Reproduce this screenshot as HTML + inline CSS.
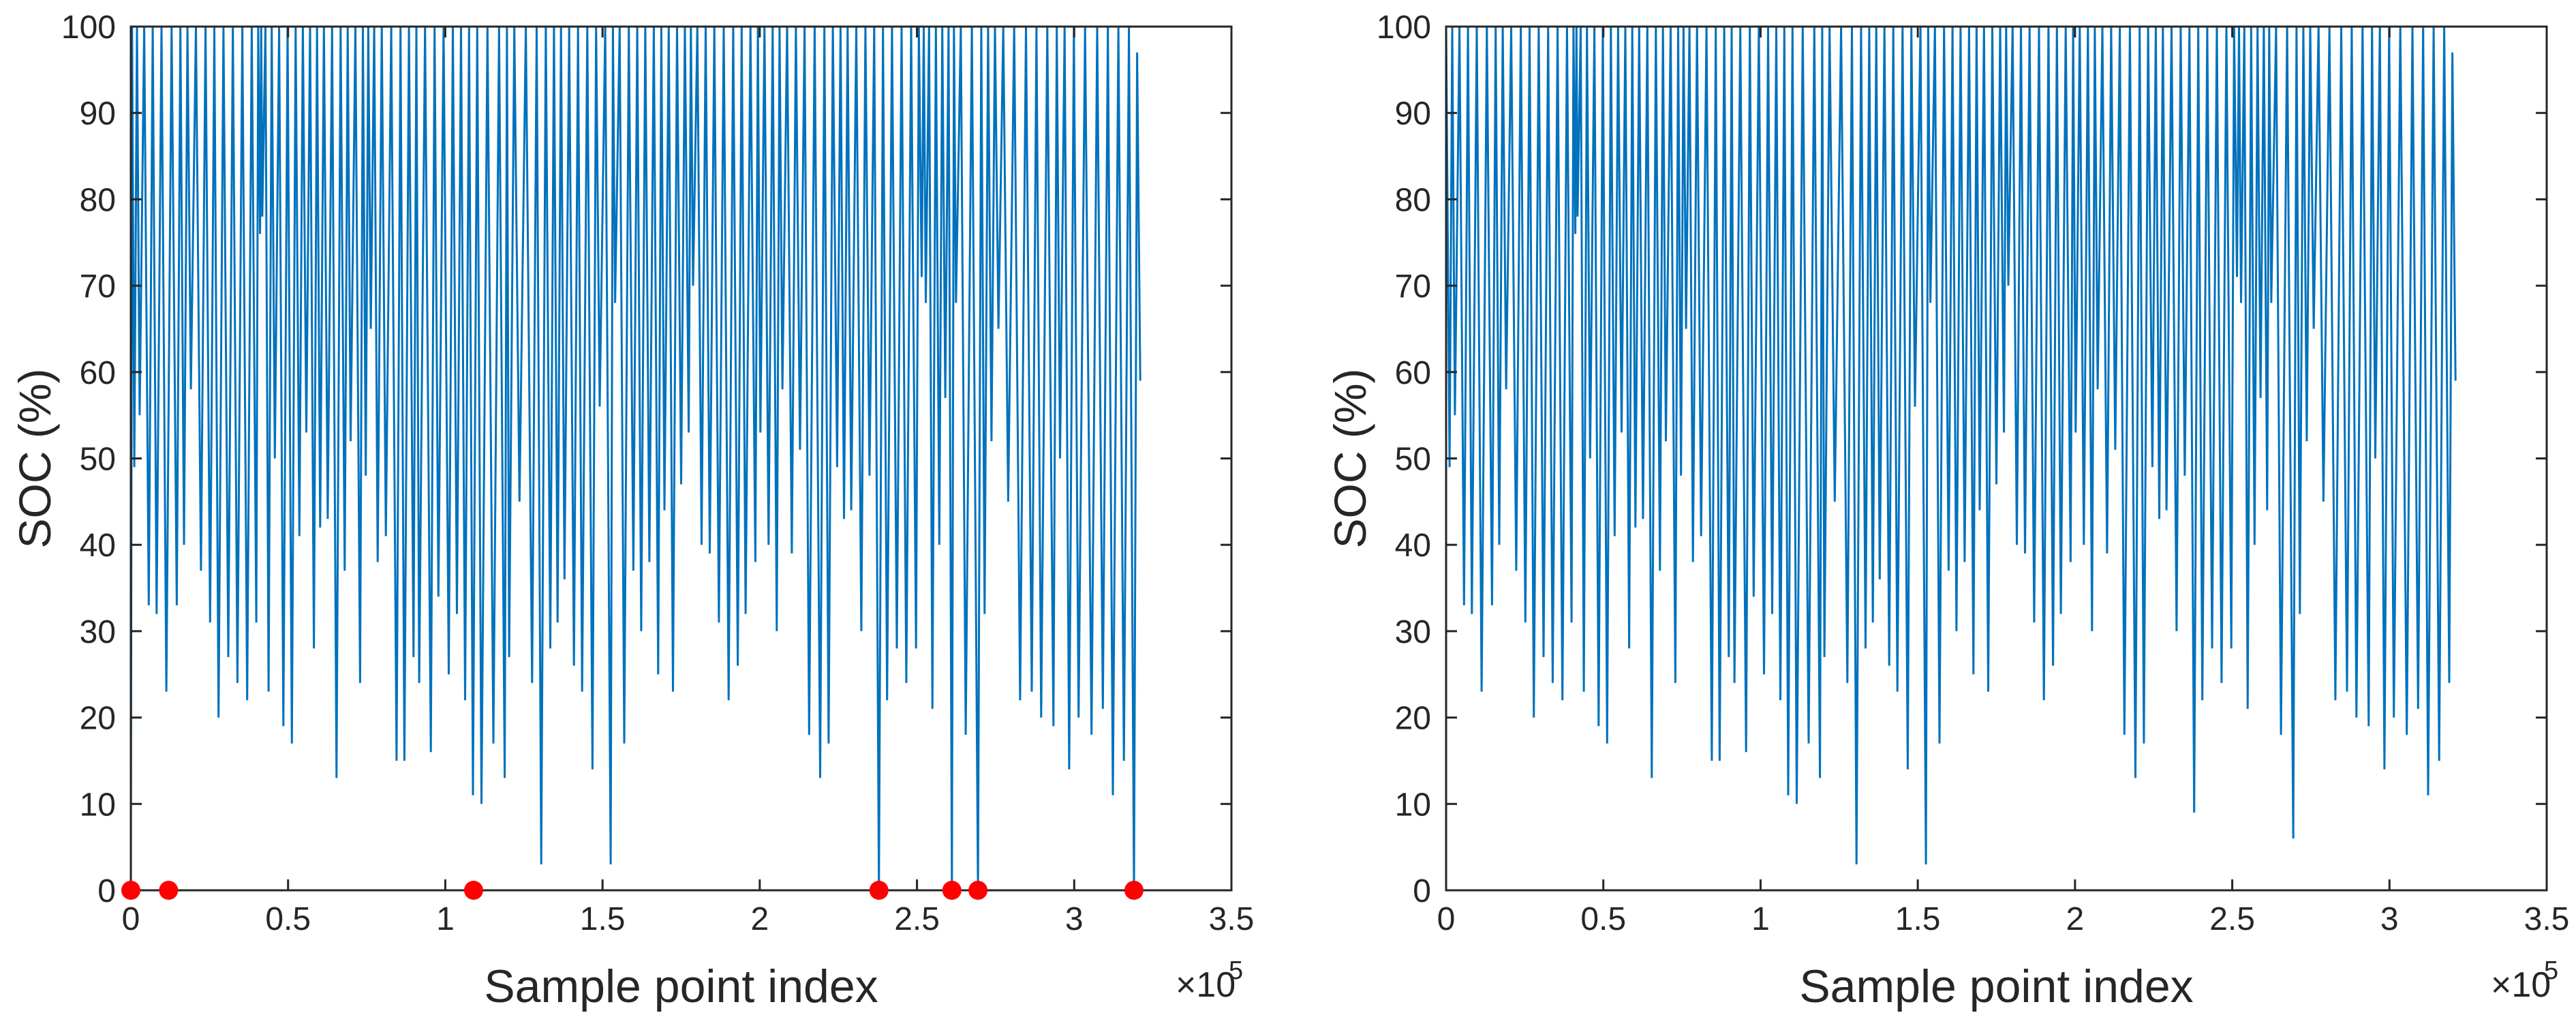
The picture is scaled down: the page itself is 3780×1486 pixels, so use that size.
<!DOCTYPE html>
<html><head><meta charset="utf-8"><style>
html,body{margin:0;padding:0;background:#fff;}
svg{display:block;font-family:"Liberation Sans",Arial,sans-serif;}
</style></head><body>
<svg id="fig" width="3780" height="1486" viewBox="0 0 3780 1486"></svg>
<script>
// ---- data (sample index in units of 1e5, SOC minima in %) ----
const cycleIdx = [0.011,0.028,0.057,0.082,0.113,0.146,0.169,0.191,0.223,0.252,0.279,0.310,0.339,0.370,0.399,0.411,0.418,0.438,0.458,0.485,0.512,0.536,0.558,0.582,0.602,0.626,0.654,0.680,0.699,0.729,0.747,0.763,0.785,0.811,0.845,0.870,0.899,
0.917,0.954,0.978,1.011,1.037,1.063,1.088,1.115,1.153,1.189,1.203,1.236,1.276,1.305,1.334,1.357,1.379,1.409,1.435,1.468,1.491,1.526,1.540,1.569,1.598,1.623,1.649,1.677,1.697,1.724,1.750,1.774,1.788,
1.815,1.841,1.870,1.901,1.930,1.955,1.986,2.002,2.028,2.054,2.072,2.102,2.128,2.157,2.192,2.219,2.246,2.268,2.291,2.323,2.349,2.379,2.405,2.436,2.466,2.497,2.515,2.528,2.549,2.571,2.590,2.611,2.624,2.655,
2.694,2.715,2.737,2.759,2.790,2.828,2.865,2.895,2.934,2.955,2.984,3.014,3.055,3.091,3.123,3.158,3.190];
const cycleMin = [49,55,33,32,23,33,40,58,37,31,20,27,24,22,31,76,78,23,50,19,17,41,53,28,42,43,13,37,52,24,48,65,38,41,15,15,27,
24,16,34,25,32,22,11,10,17,13,27,45,24,3,28,31,36,26,23,14,56,3,68,17,37,30,38,25,44,23,47,53,70,
40,39,31,22,26,32,38,53,40,30,58,39,51,18,13,17,49,43,44,30,48,9,22,28,24,28,71,68,21,40,57,44,68,18,
6,32,52,65,45,22,23,20,19,50,14,20,18,21,11,15,24];
const endIdx = 3.210;
const endVal = 59;
const lastPeak = 97;
const zeroDropIdx = [2.379, 2.611, 2.694, 3.190];      // minima forced to 0 in left plot
const redDotIdx = [0, 0.12, 1.09, 2.379, 2.611, 2.694, 3.190];
const xTicks = [0,0.5,1,1.5,2,2.5,3,3.5];
const xTickLabels = ["0","0.5","1","1.5","2","2.5","3","3.5"];
const yTicks = [0,10,20,30,40,50,60,70,80,90,100];

const NS = "http://www.w3.org/2000/svg";
const svg = document.getElementById("fig");
function mk(tag, attrs, parent){const e=document.createElementNS(NS,tag);for(const k in attrs)e.setAttribute(k,attrs[k]);(parent||svg).appendChild(e);return e;}

function drawPanel(x0, left){
  const x1 = x0 + 1615, yTop = 39, yBot = 1306;
  const sx = v => x0 + (v/3.5)*(x1-x0);
  const sy = v => yBot - (v/100)*(yBot-yTop);
  const g = mk("g",{});
  
  

  const pts = [];
  pts.push([0, left ? 0 : 100]);
  if (left) pts.push([0.004, 100]);
  for (let i=0;i<cycleIdx.length;i++){
    let m = cycleMin[i];
    if (left && zeroDropIdx.some(z=>Math.abs(z-cycleIdx[i])<0.003)) m = 0;
    pts.push([cycleIdx[i], m]);
    const next = i+1<cycleIdx.length ? cycleIdx[i+1] : endIdx;
    const peak = i===cycleIdx.length-1 ? lastPeak : 100;
    pts.push([(cycleIdx[i]+next)/2, peak]);
  }
  pts.push([endIdx, endVal]);
  const d = pts.map((p,i)=>(i?"L":"M")+sx(p[0]).toFixed(1)+" "+sy(p[1]).toFixed(1)).join(" ");
  const line = mk("path",{d:d,fill:"none",stroke:"#0072BD","stroke-width":"3","stroke-linejoin":"miter"},g);
  
  

  const box = mk("rect",{x:x0,y:yTop,width:x1-x0,height:yBot-yTop,fill:"none",stroke:"#262626","stroke-width":"3"},g);
  
  

  xTicks.forEach((t,i)=>{
    const X = sx(t);
    mk("line",{x1:X,y1:yBot,x2:X,y2:yBot-16,stroke:"#262626","stroke-width":"3"},g);
    mk("line",{x1:X,y1:yTop,x2:X,y2:yTop+16,stroke:"#262626","stroke-width":"3"},g);
    const tx = mk("text",{x:X,y:yBot+58,"font-size":"48","text-anchor":"middle",fill:"#262626"},g);
    tx.textContent = xTickLabels[i];
    
    
  });
  yTicks.forEach(t=>{
    const Y = sy(t);
    mk("line",{x1:x0,y1:Y,x2:x0+16,y2:Y,stroke:"#262626","stroke-width":"3"},g);
    mk("line",{x1:x1,y1:Y,x2:x1-16,y2:Y,stroke:"#262626","stroke-width":"3"},g);
    const ty = mk("text",{x:x0-22,y:Y+17,"font-size":"48","text-anchor":"end",fill:"#262626"},g);
    ty.textContent = String(t);
    
    
  });
  const xl = mk("text",{x:(x0+x1)/2,y:1470,"font-size":"68","text-anchor":"middle",fill:"#262626"},g);
  xl.textContent = "Sample point index";
  
  
  const yl = mk("text",{x:0,y:0,"font-size":"66","text-anchor":"middle",fill:"#262626",transform:`translate(${x0-118},${(yTop+yBot)/2}) rotate(-90)`},g);
  yl.textContent = "SOC (%)";
  
  
  const ex = mk("text",{x:x1-82,y:1462,"font-size":"52",fill:"#262626"},g);
  ex.textContent = "\u00d710";
  
  
  const ex5 = mk("text",{x:x1-4,y:1436,"font-size":"38",fill:"#262626"},g);
  ex5.textContent = "5";
  
  

  if (left){
    redDotIdx.forEach(v=>{
      const c = mk("circle",{cx:sx(v),cy:yBot,r:14,fill:"#FF0000"},g);
      
      
    });
  }
}
drawPanel(192, true);
drawPanel(2122, false);
</script>
</body></html>
